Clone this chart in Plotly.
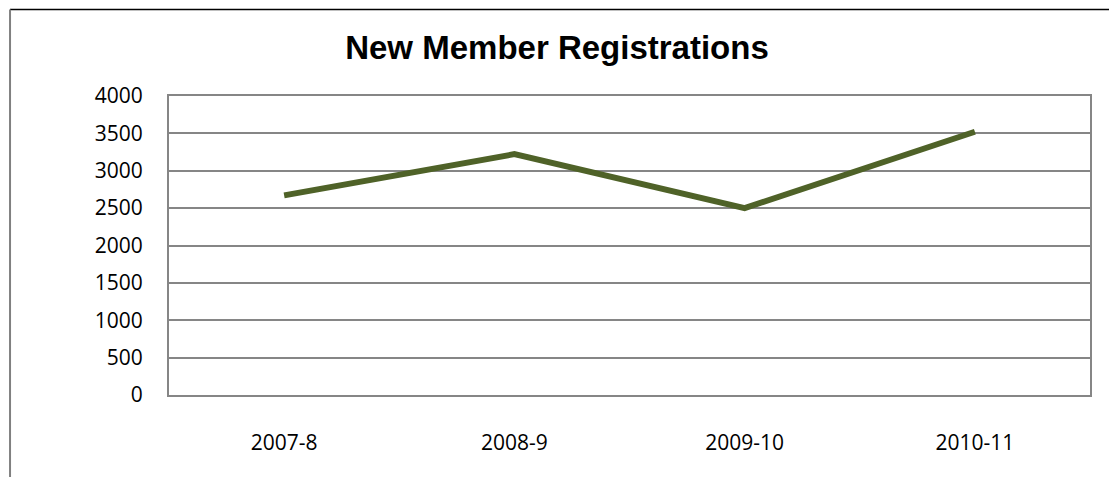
import plotly.graph_objects as go

seasons = ["2007-8", "2008-9", "2009-10", "2010-11"]
registrations = [2670, 3222, 2500, 3522]
y_ticks = [0, 500, 1000, 1500, 2000, 2500, 3000, 3500, 4000]

fig = go.Figure(go.Scatter(
    x=seasons, y=registrations, mode="lines",
    line=dict(color="#4F6228", width=6),
    hoverinfo="x+y", showlegend=False))

grid = "#868686"
fig.update_xaxes(
    type="category", range=[-0.5, 3.5],
    showgrid=False, showline=True, linecolor=grid, linewidth=2, mirror=True,
    ticks="", ticklabelstandoff=28, fixedrange=True,
    tickfont=dict(family="Open Sans", size=21, color="black"))
fig.update_yaxes(
    range=[0, 4000], tickvals=y_ticks, showgrid=True, gridcolor=grid, gridwidth=1.5,
    showline=True, linecolor=grid, linewidth=2, mirror=True, zeroline=False,
    ticks="", ticklabelstandoff=20, fixedrange=True,
    tickfont=dict(family="Open Sans", size=21, color="black"))

# chart-area border (only top and left edges are visible in the crop)
fig.add_shape(type="line", xref="paper", yref="paper", x0=-0.1726, x1=1.2,
              y0=1.289, y1=1.289, line=dict(color="black", width=1.5))
fig.add_shape(type="line", xref="paper", yref="paper", x0=-0.1726, x1=-0.1726,
              y0=1.289, y1=-0.5, line=dict(color="#808080", width=2))

fig.update_layout(
    title=dict(text="<b>New Member Registrations</b>", x=549 / 1117, y=1 - 39 / 477,
               xanchor="center", yanchor="middle",
               font=dict(family="Liberation Sans", size=33, color="black")),
    width=1117, height=477,
    margin=dict(l=161, r=35, t=88, b=90),
    plot_bgcolor="white", paper_bgcolor="white")

fig.write_html("out.html")
